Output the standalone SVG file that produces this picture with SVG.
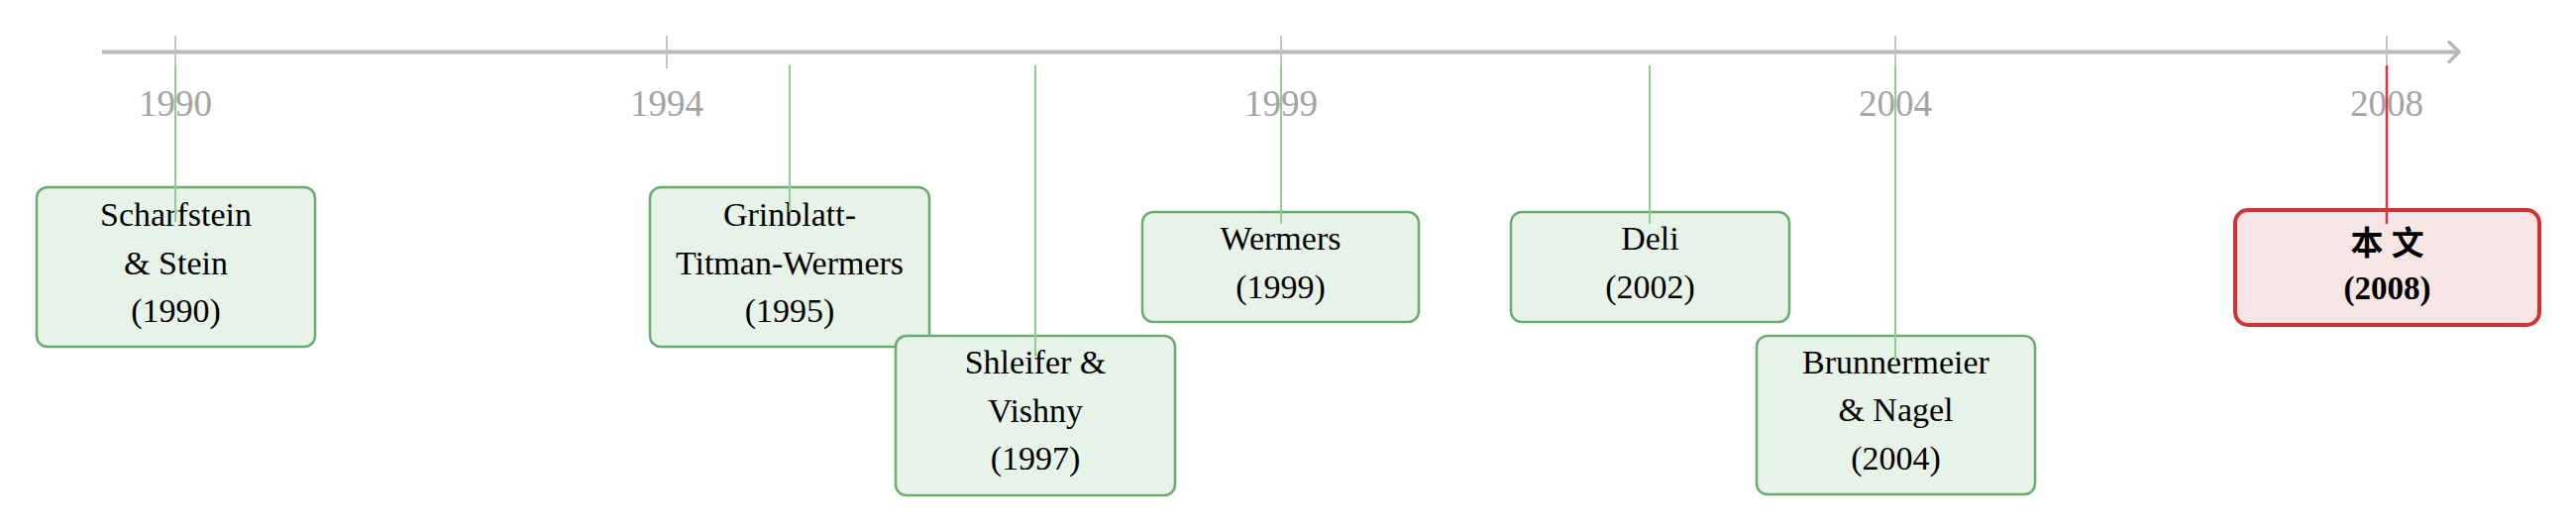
<svg xmlns="http://www.w3.org/2000/svg" width="2600" height="537" viewBox="0 0 2600 537">
<style>
.bg{fill:#ffffff}
.axis{stroke:#b8b8b8;stroke-width:4;fill:none}
.tick{stroke:#c4c4c4;stroke-width:2}
.year{font-family:"Liberation Serif","DejaVu Serif",serif;font-size:37px;fill:#a3a3a3;text-anchor:middle}
.box{fill:#e7f3e8;stroke:#68ad6f;stroke-width:2.5}
.rbox{fill:#f8e5e6;stroke:#cf3434;stroke-width:4}
.t{font-family:"Liberation Serif","DejaVu Serif",serif;font-size:34px;fill:#000;text-anchor:middle}
.tb{font-family:"Liberation Serif","Noto Sans CJK SC",serif;font-size:33px;fill:#000;text-anchor:middle;font-weight:bold}
.conn{stroke:#8fcb97;stroke-width:2}
.rconn{stroke:#d0393b;stroke-width:2.5}
</style>
<defs>
<marker id="arr" viewBox="0 0 14 24" refX="12" refY="12" markerWidth="14" markerHeight="24" markerUnits="userSpaceOnUse" orient="auto">
<path d="M2,2 L12,12 L2,22" fill="none" stroke="#b8b8b8" stroke-width="3.5" stroke-linecap="round" stroke-linejoin="round"/>
</marker>
</defs>
<rect class="bg" x="0" y="0" width="2600" height="537"/>
<g id="axis">
<line class="axis" x1="103" y1="52.5" x2="2482" y2="52.5" marker-end="url(#arr)"/>
<line class="tick" x1="177" y1="36" x2="177" y2="69"/>
<line class="tick" x1="673" y1="36" x2="673" y2="69"/>
<line class="tick" x1="1293" y1="36" x2="1293" y2="69"/>
<line class="tick" x1="1913" y1="36" x2="1913" y2="69"/>
<line class="tick" x1="2409" y1="36" x2="2409" y2="69"/>
<text class="year" x="177" y="117">1990</text>
<text class="year" x="673" y="117">1994</text>
<text class="year" x="1293" y="117">1999</text>
<text class="year" x="1913" y="117">2004</text>
<text class="year" x="2409" y="117">2008</text>
</g>
<g id="n1990">
<rect class="box" x="37" y="189" width="281" height="161" rx="11"/>
<text class="t" x="177.5" y="228">Scharfstein</text>
<text class="t" x="177.5" y="277">&amp; Stein</text>
<text class="t" x="177.5" y="325">(1990)</text>
</g>
<g id="n1995">
<rect class="box" x="656" y="189" width="282" height="161" rx="11"/>
<text class="t" x="797" y="228">Grinblatt-</text>
<text class="t" x="797" y="277">Titman-Wermers</text>
<text class="t" x="797" y="325">(1995)</text>
</g>
<g id="n1997">
<rect class="box" x="904" y="339" width="282" height="161" rx="11"/>
<text class="t" x="1045" y="377">Shleifer &amp;</text>
<text class="t" x="1045" y="426">Vishny</text>
<text class="t" x="1045" y="474">(1997)</text>
</g>
<g id="n1999">
<rect class="box" x="1153" y="214" width="279" height="111" rx="11"/>
<text class="t" x="1292.5" y="252">Wermers</text>
<text class="t" x="1292.5" y="301">(1999)</text>
</g>
<g id="n2002">
<rect class="box" x="1525" y="214" width="281" height="111" rx="11"/>
<text class="t" x="1665.5" y="252">Deli</text>
<text class="t" x="1665.5" y="301">(2002)</text>
</g>
<g id="n2004">
<rect class="box" x="1773" y="339" width="281" height="160" rx="11"/>
<text class="t" x="1913.5" y="377">Brunnermeier</text>
<text class="t" x="1913.5" y="425">&amp; Nagel</text>
<text class="t" x="1913.5" y="474">(2004)</text>
</g>
<g id="n2008">
<rect class="rbox" x="2256" y="212" width="307" height="116" rx="13"/>
<text class="tb" x="2409.5" y="257">本 文</text>
<text class="tb" x="2409.5" y="302">(2008)</text>
</g>
<g id="connectors">
<line class="conn" x1="177" y1="66" x2="177" y2="224"/>
<line class="conn" x1="797" y1="66" x2="797" y2="214"/>
<line class="conn" x1="1045" y1="66" x2="1045" y2="360"/>
<line class="conn" x1="1293" y1="66" x2="1293" y2="226"/>
<line class="conn" x1="1665" y1="66" x2="1665" y2="226"/>
<line class="conn" x1="1913" y1="66" x2="1913" y2="364"/>
<line class="rconn" x1="2409" y1="66" x2="2409" y2="226"/>
</g>
</svg>
